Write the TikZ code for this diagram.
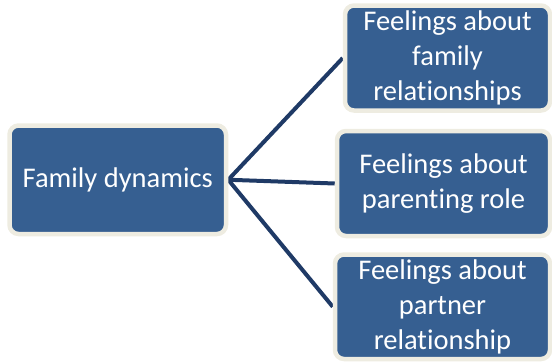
\documentclass[tikz,border=0pt]{standalone}
\usepackage{fontspec}
\setmainfont[Ligatures=NoCommon]{Carlito}
\usetikzlibrary{backgrounds}
\definecolor{boxblue}{HTML}{365F91}
\definecolor{boxrim}{HTML}{EEECE1}
\definecolor{linknavy}{HTML}{1F3A66}
\tikzset{
  topic/.style={draw=boxrim, line width=4.5pt, fill=boxblue, rounded corners=9pt,
    text=white, align=center, inner sep=0pt,
    font=\fontsize{28.5}{35}\selectfont},
  link/.style={draw=linknavy, line width=4pt}
}
\begin{document}
\begin{tikzpicture}[x=1pt, y=-1pt]
  \useasboundingbox (0,0) rectangle (552,362);
  \node[topic, minimum width=216.5pt, minimum height=108.5pt] (root) at (117.75,179.75) {Family dynamics};
  \node[topic, minimum width=205pt, minimum height=105pt] (fam) at (447.5,58) {Feelings about\\family\\relationships};
  \node[topic, minimum width=213pt, minimum height=105pt] (par) at (443.5,183.5) {Feelings about\\parenting role};
  \node[topic, minimum width=215pt, minimum height=104.5pt] (ptn) at (442.5,306.75) {Feelings about\\partner\\relationship};
  \begin{scope}[on background layer]
    \draw[link] (root.east) -- (fam.west);
    \draw[link] (root.east) -- (par.west);
    \draw[link] (root.east) -- (ptn.west);
  \end{scope}
\end{tikzpicture}
\end{document}
